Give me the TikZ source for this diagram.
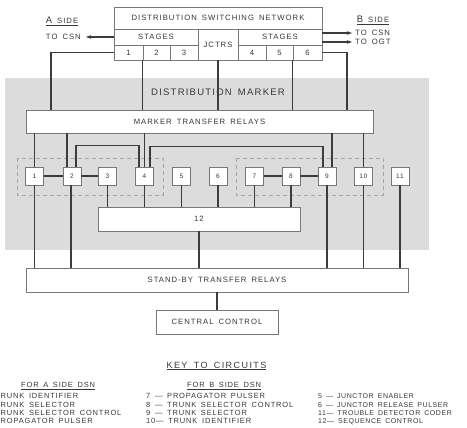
\documentclass[tikz,border=0pt]{standalone}
\usepackage{fontspec}
\setmainfont{Liberation Sans}[LetterSpace=13,WordSpace=1.6]
\usetikzlibrary{arrows.meta,calc}
\definecolor{txt}{RGB}{55,55,55}
\definecolor{linec}{RGB}{60,60,60}
\definecolor{boxc}{RGB}{120,120,120}
\definecolor{shadec}{RGB}{220,220,220}
\begin{document}
\begin{tikzpicture}[x=1pt,y=-1pt,
  lab/.style={font=\fontsize{7.7}{9}\selectfont, text=txt, inner sep=0pt},
  big/.style={font=\fontsize{9.5}{11}\selectfont, text=txt, inner sep=0pt},
  box/.style={draw=boxc, line width=0.6pt, fill=white, inner sep=0pt, lab},
  sbox/.style={box, minimum width=18, minimum height=18, font=\fontsize{6.5}{8}\selectfont},
  conn/.style={draw=linec, line width=1.5pt},
  arr/.style={draw=linec, line width=1.2pt, -{Stealth[length=5pt,width=3.5pt]}},
  dbox/.style={draw=gray!70, line width=0.8pt, dash pattern=on 4pt off 3pt},
  keyrow/.style={lab, anchor=base west, font=\fontsize{7.5}{9}\selectfont\addfontfeature{LetterSpace=11}},
  keyrowr/.style={lab, anchor=base west, font=\fontsize{7}{9}\selectfont\addfontfeature{LetterSpace=8}}]
\useasboundingbox (0,0) rectangle (467,428);
% shaded marker area
\fill[shadec] (5,78) rectangle (429,250);
% distribution switching network
\node[box, minimum width=208, minimum height=22] (dsn) at (218,18) {DISTRIBUTION SWITCHING NETWORK};
\node[box, minimum width=84, minimum height=16] (stl) at (156,37) {STAGES};
\node[box, minimum width=29, minimum height=15] (c1) at (128.5,52.5) {1};
\node[box, minimum width=27, minimum height=15] (c2) at (156.5,52.5) {2};
\node[box, minimum width=28, minimum height=15] (c3) at (184,52.5) {3};
\node[box, minimum width=40, minimum height=31] (jc) at (218,44.5) {JCTRS};
\node[box, minimum width=84, minimum height=16] (str) at (280,37) {STAGES};
\node[box, minimum width=28, minimum height=15] (c4) at (252,52.5) {4};
\node[box, minimum width=27, minimum height=15] (c5) at (279.5,52.5) {5};
\node[box, minimum width=29, minimum height=15] (c6) at (307.5,52.5) {6};
% side labels
\node[lab] (aside) at (62,21) {\underline{{\fontsize{9.5}{11}\selectfont A} SIDE}};
\node[lab, anchor=east] (tocsna) at (81,37) {TO CSN};
\coordinate (arra) at (86,37);
\draw[arr] (stl.west) -- (arra);
\node[lab] (bside) at (373,20) {\underline{{\fontsize{9.5}{11}\selectfont B} SIDE}};
\node[lab, anchor=west] (tocsnb) at (355,33) {TO CSN};
\node[lab, anchor=west] (toogt) at (355,42) {TO OGT};
\draw[arr] ([yshift=4pt]str.east) -- ([xshift=-3pt]tocsnb.west);
\draw[arr] ([yshift=-5pt]str.east) -- ([xshift=-3pt]toogt.west);
% marker
\node[big] (dm) at (218,92) {DISTRIBUTION MARKER};
\node[box, minimum width=347, minimum height=23] (mtr) at (199.5,121.5) {MARKER TRANSFER RELAYS};
\coordinate (xa) at (51,0);
\coordinate (xb) at (347,0);
\draw[conn] (c1.west) -| (mtr.north -| xa);
\draw[conn] (c2.south west) -- (c2.south west |- mtr.north);
\draw[conn] (jc.south) -- (jc.south |- mtr.north);
\draw[conn] (c6.south west) -- (c6.south west |- mtr.north);
\draw[conn] (c6.east) -| (mtr.north -| xb);
% dashed groups
\draw[dbox] (17,158) rectangle (163,195);
\draw[dbox] (236,158) rectangle (383,195);
% circuit boxes
\node[sbox] (b1) at (34.5,176) {1};
\node[sbox] (b2) at (72,176) {2};
\node[sbox] (b3) at (107.5,176) {3};
\node[sbox] (b4) at (144.5,176) {4};
\node[sbox] (b5) at (181.5,176) {5};
\node[sbox] (b6) at (218,176) {6};
\node[sbox] (b7) at (254.5,176) {7};
\node[sbox] (b8) at (291,176) {8};
\node[sbox] (b9) at (327,176) {9};
\node[sbox] (b10) at (363.5,176) {10};
\node[sbox] (b11) at (400,176) {11};
\node[box, minimum width=202, minimum height=24] (b12) at (199,219) {12};
\node[box, minimum width=382, minimum height=24] (sb) at (217,280) {STAND-BY TRANSFER RELAYS};
\node[box, minimum width=122, minimum height=24] (cc) at (217,322) {CENTRAL CONTROL};
% marker transfer relays to circuits
\draw[conn] (mtr.south -| b1.north) -- (b1.north);
\draw[conn] ([xshift=-5pt]b2.north |- mtr.south) -- ([xshift=-5pt]b2.north);
\draw[conn] (mtr.south -| b4.north) -- (b4.north);
\draw[conn] ([xshift=5pt]b9.north |- mtr.south) -- ([xshift=5pt]b9.north);
\draw[conn] (mtr.south -| b10.north) -- (b10.north);
\draw[conn] ([xshift=4pt]b2.north) -- ++(0,-21) -| ([xshift=-5.5pt]b4.north);
\draw[conn] ([xshift=5.5pt]b4.north) -- ++(0,-20) -| ([xshift=-4pt]b9.north);
% horizontal links
\draw[conn] (b1.east) -- (b2.west);
\draw[conn] (b2.east) -- (b3.west);
\draw[conn] (b7.east) -- (b8.west);
\draw[conn] (b8.east) -- (b9.west);
% to sequence control
\foreach \b in {b3,b4,b5,b6,b7,b8}{\draw[conn] (\b.south) -- (\b.south |- b12.north);}
% to stand-by
\draw[conn] (b1.south) -- (b1.south |- sb.north);
\draw[conn] ([xshift=-1pt]b2.south) -- ([xshift=-1pt]b2.south |- sb.north);
\foreach \b in {b9,b10,b11}{\draw[conn] (\b.south) -- (\b.south |- sb.north);}
\draw[conn] (b12.south) -- (b12.south |- sb.north);
\draw[conn] (sb.south -| cc.north) -- (cc.north);
% key
\node[big, anchor=base, font=\fontsize{9}{11}\selectfont\addfontfeature{LetterSpace=16}] (key) at (216.5,368) {\underline{KEY TO CIRCUITS}};
\node[keyrow] (ha) at (21,388) {\underline{FOR A SIDE DSN}};
\node[keyrow] (hb) at (187,388) {\underline{FOR B SIDE DSN}};
\node[keyrow] (a1) at (0.5,399) {RUNK IDENTIFIER};
\node[keyrow] (a2) at (0.5,407) {RUNK SELECTOR};
\node[keyrow] (a3) at (0.5,415) {RUNK SELECTOR CONTROL};
\node[keyrow] (a4) at (0.5,424) {ROPAGATOR PULSER};
\node[keyrow] (k7) at (146,399) {7 — PROPAGATOR PULSER};
\node[keyrow] (k8) at (146,407) {8 — TRUNK SELECTOR CONTROL};
\node[keyrow] (k9) at (146,415) {9 — TRUNK SELECTOR};
\node[keyrow] (k10) at (146,424) {10— TRUNK IDENTIFIER};
\node[keyrowr] (k5) at (318,399) {5 — JUNCTOR ENABLER};
\node[keyrowr] (k6) at (318,407) {6 — JUNCTOR RELEASE PULSER};
\node[keyrowr] (k11) at (318,415) {11— TROUBLE DETECTOR CODER};
\node[keyrowr] (k12) at (318,424) {12— SEQUENCE CONTROL};
\end{tikzpicture}
\end{document}
